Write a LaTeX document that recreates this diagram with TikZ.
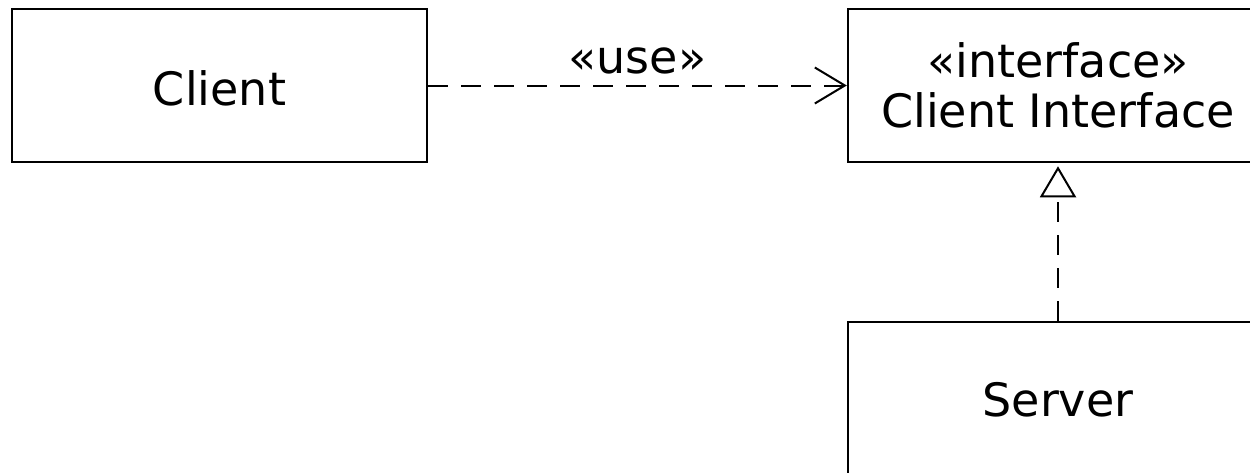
\documentclass[tikz,border=0pt]{standalone}
\usepackage{fontspec}
\setmainfont{DejaVu Sans}
\usepackage{tikz}
\usetikzlibrary{arrows.meta}

\tikzset{
  umlclass/.style={draw, line width=2.5pt, inner sep=0pt, align=center,
    font=\fontsize{46}{50}\selectfont},
  umldash/.style={line width=2pt, dash pattern=on 20pt off 13pt},
}

\begin{document}
\begin{tikzpicture}[x=1pt,y=-1pt]
              \useasboundingbox (0,0) rectangle (1250,472);
              \clip (0,0) rectangle (1250,472);

              \node[umlclass, minimum width=415pt, minimum height=153pt, text height=41pt] (client) at (219.5,85.5) {Client};
              \node[umlclass, minimum width=420pt, minimum height=153pt] (iface) at (1058,85.5) {«interface»\\Client Interface};
              \node[umlclass, minimum width=420pt, minimum height=156pt] (server) at (1058,400) {Server};

              % dependency
              \draw[umldash, -{Straight Barb[length=30pt,width=36pt,line width=2pt]}] (client) -- (iface)
                node[midway, above=10pt, inner sep=0pt, font=\fontsize{46}{50}\selectfont] {«use»};

              % realization
              \draw[umldash, shorten >=3pt, -{Triangle[open,length=31pt,width=36pt,line width=2pt]}] (server) -- (iface);

            \end{tikzpicture}
\end{document}
